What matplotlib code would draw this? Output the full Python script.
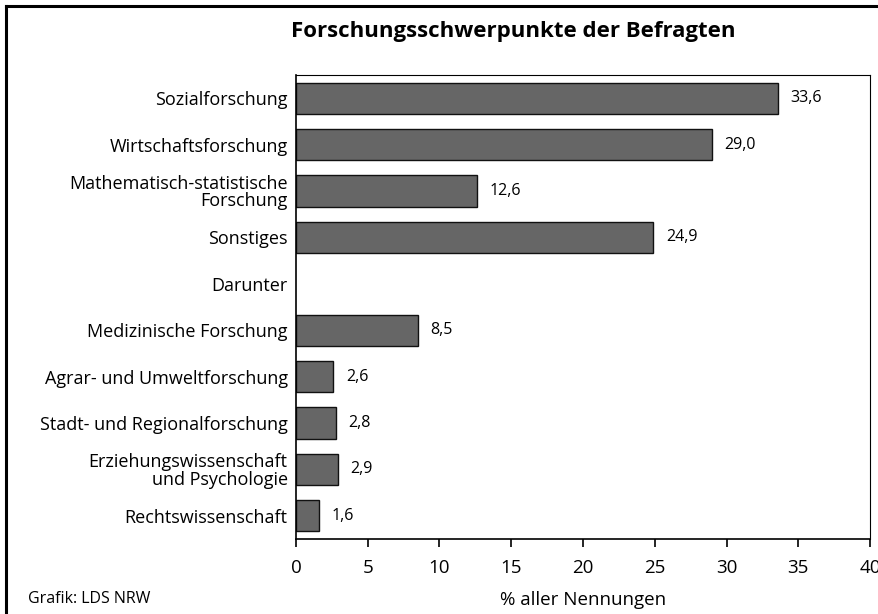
import numpy as np
import matplotlib
matplotlib.use("Agg")
from matplotlib import pyplot as plt
from matplotlib.lines import Line2D

plt.rcParams["font.family"] = ["Open Sans", "DejaVu Sans"]

categories = [
    "Sozialforschung",
    "Wirtschaftsforschung",
    "Mathematisch-statistische\nForschung",
    "Sonstiges",
    "Darunter",
    "Medizinische Forschung",
    "Agrar- und Umweltforschung",
    "Stadt- und Regionalforschung",
    "Erziehungswissenschaft\nund Psychologie",
    "Rechtswissenschaft",
]
values = [33.6, 29.0, 12.6, 24.9, np.nan, 8.5, 2.6, 2.8, 2.9, 1.6]
xticks = [0, 5, 10, 15, 20, 25, 30, 35, 40]

fig = plt.figure(figsize=(8.79, 6.14), dpi=100)
ax = fig.add_axes((0.3367, 0.1221, 0.6531, 0.7557))

y = np.arange(len(categories))
vals = np.array(values, dtype=float)
mask = ~np.isnan(vals)
ax.barh(y[mask], vals[mask], height=0.67, color="#666666", edgecolor="#111111", linewidth=1.0)

for yi, v in zip(y[mask], vals[mask]):
    ax.annotate(f"{v:.1f}".replace(".", ","), (v, yi), xytext=(9, 0),
                textcoords="offset points", va="center", ha="left", fontsize=11.5)

ax.set_ylim(len(categories) - 0.5, -0.5)
ax.set_xlim(0, 40)
ax.set_yticks(y)
ax.set_yticklabels(categories, fontsize=13, linespacing=0.95)
for lbl in ax.get_yticklabels():
    lbl.set_multialignment("right")
ax.tick_params(axis="y", length=0, pad=6)
ax.set_xticks(xticks)
ax.tick_params(axis="x", direction="out", length=6, width=1.2, labelsize=13.5, pad=8.5)
ax.set_xlabel("% aller Nennungen", fontsize=13.5, labelpad=10)

for side in ["left", "bottom"]:
    ax.spines[side].set_linewidth(1.2)
for side in ["top", "right"]:
    ax.spines[side].set_linewidth(0.8)

fig.text(0.5836, 0.949, "Forschungsschwerpunkte der Befragten", ha="center", va="center",
         fontsize=16, fontweight="bold")
fig.text(0.032, 0.024, "Grafik: LDS NRW", ha="left", va="center", fontsize=11.5)

# frame at left and top edge
fig.add_artist(Line2D([0.0068, 0.0068], [0, 0.9905], transform=fig.transFigure, color="black", linewidth=2.2))
fig.add_artist(Line2D([0.0068, 1.0], [0.9905, 0.9905], transform=fig.transFigure, color="black", linewidth=2.2))

fig.savefig("out.png", dpi=100)
